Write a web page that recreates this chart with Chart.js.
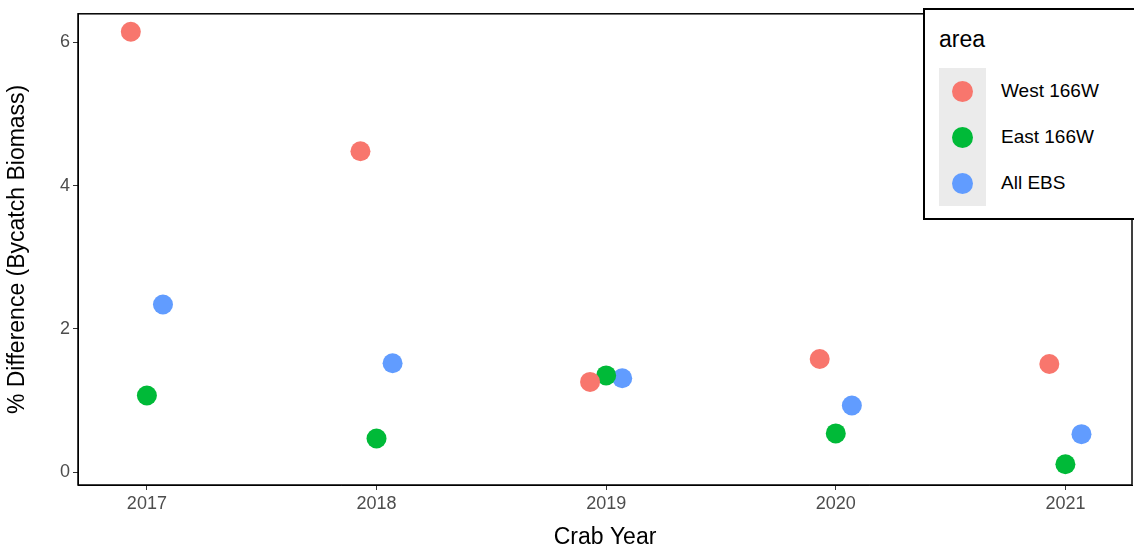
<!DOCTYPE html>
<html><head><meta charset="utf-8">
<script src="https://cdn.jsdelivr.net/npm/chart.js@4"></script>
<style>
body{margin:0;background:#fff;font-family:"Liberation Sans",Arial,sans-serif}
#wrap{position:relative;width:1134px;height:555px}
#leg{position:absolute;left:923px;top:8px;width:220px;height:212px;border:2px solid #000;background:#fff;box-sizing:border-box}
#leg .t{position:absolute;left:14px;top:16px;font-size:23px}
.row{position:absolute;left:14px;width:47px;height:46px;background:#ebebeb}
.row i{position:absolute;left:13px;top:13px;width:21px;height:21px;border-radius:50%}
.lab{position:absolute;left:76px;font-size:19px}
</style></head><body>
<div id="wrap"><canvas id="c" width="1134" height="555"></canvas>
<div id="leg"><div class="t">area</div>
<div class="row" style="top:58px"><i style="background:#F8766D"></i></div><div class="lab" style="top:70px">West 166W</div>
<div class="row" style="top:104px"><i style="background:#00BA38"></i></div><div class="lab" style="top:116px">East 166W</div>
<div class="row" style="top:150px"><i style="background:#619CFF"></i></div><div class="lab" style="top:162px">All EBS</div>
</div></div>
<script>
const years = [2017, 2018, 2019, 2020, 2021];
const west = [6.15, 4.48, 1.26, 1.58, 1.51];
const east = [1.07, 0.47, 1.35, 0.54, 0.11];
const allEbs = [2.34, 1.52, 1.31, 0.93, 0.53];

function pts(vals, off) { return vals.map((v, i) => ({ x: years[i] + off, y: v })); }
function ds(label, vals, off, color) {
  return { label, data: pts(vals, off), backgroundColor: color, borderWidth: 0, pointRadius: 10, pointHoverRadius: 10 };
}
const boxPlugin = {
  id: 'box',
  afterDraw(chart) {
    const a = chart.chartArea, c = chart.ctx;
    c.save(); c.strokeStyle = '#000'; c.lineWidth = 1.5;
    c.strokeRect(a.left, a.top, a.right - a.left, a.bottom - a.top); c.restore();
  }
};
const tickFont = { family: 'Liberation Sans', size: 18 };
new Chart(document.getElementById('c'), {
  type: 'scatter',
  data: { datasets: [ds('West 166W', west, -0.07, '#F8766D'), ds('East 166W', east, 0, '#00BA38'), ds('All EBS', allEbs, 0.07, '#619CFF')] },
  options: {
    responsive: false, animation: false,
    layout: { autoPadding: false, padding: { top: 3, right: 2, left: 0, bottom: 0 } },
    plugins: { legend: { display: false }, tooltip: { enabled: false } },
    scales: {
      x: {
        type: 'linear', min: 2016.70, max: 2021.29,
        afterBuildTicks: s => { s.ticks = years.map(v => ({ value: v })); },
        afterFit: s => { s.height = 70; },
        ticks: { color: '#4d4d4d', font: tickFont, callback: v => String(v) },
        grid: { drawOnChartArea: false, color: '#333', tickLength: 5 },
        border: { color: '#000' },
        title: { display: true, text: 'Crab Year', color: '#000', font: { family: 'Liberation Sans', size: 23 }, padding: { top: 6 } }
      },
      y: {
        min: -0.18, max: 6.40,
        afterBuildTicks: s => { s.ticks = [0, 2, 4, 6].map(v => ({ value: v })); },
        afterFit: s => { s.width = 78; },
        ticks: { color: '#4d4d4d', font: tickFont },
        grid: { drawOnChartArea: false, color: '#333', tickLength: 5 },
        border: { color: '#000' },
        title: { display: true, text: '% Difference (Bycatch Biomass)', color: '#000', font: { family: 'Liberation Sans', size: 23 }, padding: { bottom: 6 } }
      }
    }
  },
  plugins: [boxPlugin]
});
</script></body></html>
